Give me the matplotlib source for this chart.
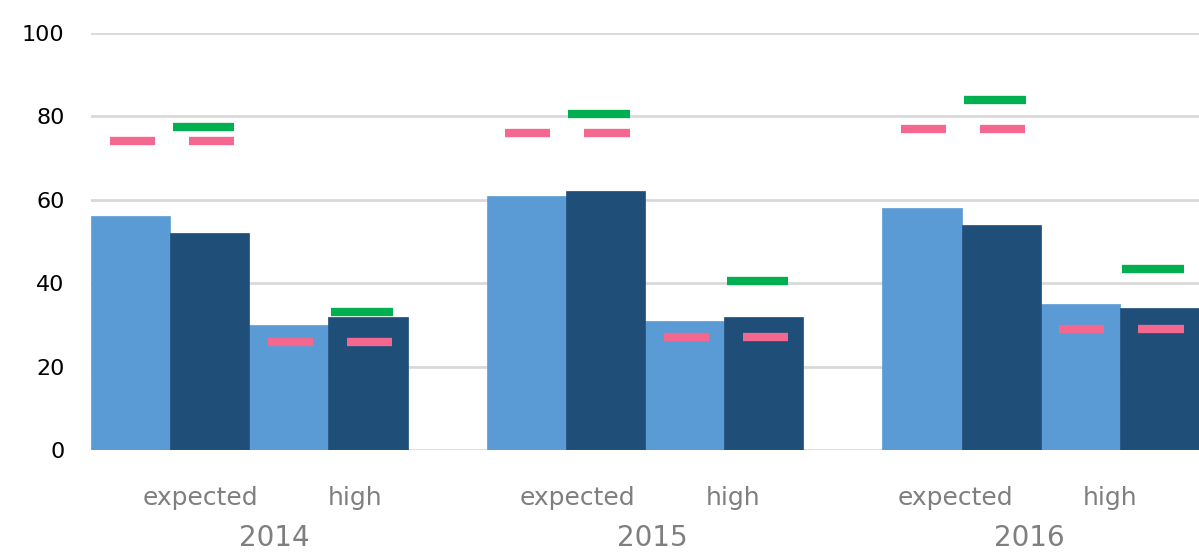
import numpy as np
import matplotlib.pyplot as plt

## Data
years = ['2014', '2015', '2016']
groups = ['expected', 'high']
light_vals = [56, 30, 61, 31, 58, 35]   # light blue bars (expected, high per year)
dark_vals = [52, 32, 62, 32, 54, 34]    # dark blue bars
pink_light = [74, 26, 76, 27, 77, 29]   # pink dash over light bar
pink_dark = [74, 26, 76, 27, 77, 29]    # pink dash over dark bar
green_vals = [77.5, 33, 80.5, 40.5, 84, 43.5]  # green dash
y_ticks = [0, 20, 40, 60, 80, 100]

light_c = '#5B9BD5'
dark_c = '#1F4E79'
pink_c = '#F4688F'
green_c = '#00B050'
grid_c = '#D9D9D9'
label_c = '#7F7F7F'

fig = plt.figure(figsize=(11.99, 5.52), dpi=100)
ax = fig.add_axes([91 / 1199, 1 - 450 / 552, 1 - 91 / 1199, (450 - 33) / 552])

## bar positions: each year is 5 bar widths (4 bars + gap)
light_x = []
dark_x = []
for i in range(len(years)):
    for j in range(len(groups)):
        light_x.append(5 * i + 2 * j + 0.5)
        dark_x.append(5 * i + 2 * j + 1.5)
light_x = np.array(light_x)
dark_x = np.array(dark_x)

for y in y_ticks:
    ax.axhline(y, color=grid_c, lw=2, zorder=0)

ax.bar(light_x, light_vals, width=1.0, color=light_c, edgecolor=light_c, lw=0.5, zorder=2)
ax.bar(dark_x, dark_vals, width=1.0, color=dark_c, edgecolor=dark_c, lw=0.5, zorder=2)

## dash markers
pw = 0.57
ax.hlines(pink_light, light_x + 0.02 - pw / 2, light_x + 0.02 + pw / 2, color=pink_c, lw=6, zorder=3)
ax.hlines(pink_dark, dark_x + 0.02 - pw / 2, dark_x + 0.02 + pw / 2, color=pink_c, lw=6, zorder=3)
gw = 0.78
ax.hlines(green_vals, dark_x - 0.08 - gw / 2, dark_x - 0.08 + gw / 2, color=green_c, lw=6, zorder=3)

ax.set_xlim(0, 14)
ax.set_ylim(0, 100)
ax.set_yticks(y_ticks)
ax.set_yticklabels([str(v) for v in y_ticks], fontsize=16, color='black')
ax.tick_params(axis='y', length=0, pad=19)
ax.set_xticks([])
for s in ax.spines.values():
    s.set_visible(False)

## category labels (the original spaces them slightly tighter than the bars)
trans = ax.get_xaxis_transform()
step = 4.77
for i, yr in enumerate(years):
    for j, g in enumerate(groups):
        ax.text(1.38 + step * i + 1.96 * j, -0.115, g, transform=trans, ha='center', va='center',
                fontsize=18, color=label_c)
    ax.text(2.32 + step * i, -0.21, yr, transform=trans, ha='center', va='center',
            fontsize=20, color=label_c)

fig.savefig('out.png', dpi=100)
